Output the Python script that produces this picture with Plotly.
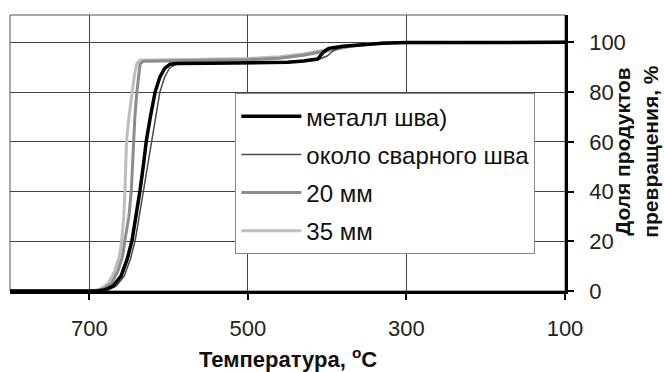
import plotly.graph_objects as go

# Temperature (°C) and transformation fraction (%) for each location
names = ["металл шва)", "около сварного шва", "20 мм", "35 мм"]

t_metal = [800, 690, 680, 670, 660, 652, 646, 641, 636, 632, 628, 623, 617, 611, 605, 598, 590, 550, 500, 450, 430, 412, 405, 398, 380, 360, 330, 300, 100]
y_metal = [0, 0, 0.5, 2, 6, 13, 20.5, 30, 40.5, 50, 60.5, 70, 80, 86, 89.5, 91.2, 91.5, 91.6, 91.7, 92.0, 92.5, 93.3, 96.0, 97.6, 98.4, 99.0, 99.6, 99.9, 100]

t_near = [800, 686, 676, 666, 656, 648, 642, 637, 632, 627, 621, 616, 611, 605, 599, 592, 585, 550, 500, 450, 425, 410, 400, 393, 385, 370, 340, 300, 100]
y_near = [0, 0, 0.5, 2, 6, 13, 20.5, 30, 40.5, 50, 60.5, 70, 80, 86, 89.5, 91.0, 91.4, 91.5, 91.6, 91.8, 92.5, 93.2, 94.5, 96.4, 97.8, 98.6, 99.4, 99.9, 100]

t_20 = [800, 692, 682, 672, 664, 658, 655, 650, 647, 645.5, 644.5, 642.5, 640, 638, 636, 632, 600, 550, 500, 460, 430, 410, 390, 370, 345, 320, 100]
y_20 = [0, 0, 0.8, 3, 8, 14, 20.5, 30, 40.5, 50, 60.5, 70, 80, 87, 91.2, 92.4, 92.6, 92.8, 93.0, 93.6, 94.8, 96.0, 97.3, 98.4, 99.3, 99.8, 100]

t_35 = [800, 696, 686, 676, 668, 662, 659, 656.5, 655, 654, 653, 650, 646, 643, 640, 636, 600, 550, 500, 460, 430, 410, 390, 370, 345, 320, 100]
y_35 = [0, 0, 0.8, 3, 8, 14, 20.5, 30, 40.5, 50, 60.5, 70, 80, 87, 91.5, 92.8, 93.0, 93.2, 93.5, 94.2, 95.3, 96.5, 97.7, 98.7, 99.4, 99.9, 100]

x_ticks = [700, 500, 300, 100]
y_ticks = [0, 20, 40, 60, 80, 100]

series = [
    (t_metal, y_metal, "#000000", 3.5),
    (t_near, y_near, "#4a4a4a", 1.5),
    (t_20, y_20, "#8c8c8c", 3),
    (t_35, y_35, "#bdbdbd", 3),
]

fig = go.Figure()
# draw lighter curves first so dark ones stay on top, keep legend order
order = [3, 2, 1, 0]
for i in order:
    t, y, c, w = series[i]
    fig.add_trace(go.Scatter(
        x=t, y=y, mode="lines", name=names[i],
        line=dict(color=c, width=w),
        legendgroup=str(i), legendrank=i + 1,
    ))

font_family = "Arial, Liberation Sans, sans-serif"

fig.update_layout(
    width=664, height=372,
    margin=dict(l=10, r=99, t=15, b=81),
    paper_bgcolor="white", plot_bgcolor="white",
    font=dict(family=font_family, color="#222222"),
    showlegend=True,
    legend=dict(
        x=0.406, y=0.717, xanchor="left", yanchor="top",
        bgcolor="white", bordercolor="#888888", borderwidth=1,
        font=dict(size=24, family=font_family, color="#111111"),
        tracegroupgap=4, itemwidth=60,
    ),
    xaxis=dict(
        range=[800, 100], tickvals=x_ticks, ticktext=[str(v) for v in x_ticks],
        showgrid=True, gridcolor="#444444", gridwidth=1,
        showline=True, linecolor="#000000", linewidth=2.5,
        ticks="outside", ticklen=6, tickcolor="#000000", tickwidth=2,
        tickfont=dict(size=22, color="#222222"),
        ticklabelstandoff=10,
        zeroline=False, fixedrange=True,
    ),
    yaxis=dict(
        range=[0, 111], tickvals=y_ticks, side="right",
        showgrid=True, gridcolor="#444444", gridwidth=1,
        showline=True, linecolor="#000000", linewidth=2.5,
        ticks="outside", ticklen=6, tickcolor="#000000", tickwidth=2,
        tickfont=dict(size=22, color="#222222"),
        ticklabelstandoff=11,
        zeroline=False, fixedrange=True,
    ),
    shapes=[dict(type="rect", xref="paper", yref="paper", x0=0, y0=0, x1=1, y1=1,
                 line=dict(color="#555555", width=1), layer="below")],
    annotations=[
        dict(text="Температура, <sup>o</sup>C", xref="paper", yref="paper",
             x=0.5, y=-0.243, xanchor="center", yanchor="middle", showarrow=False,
             font=dict(size=22, family=font_family, color="#111111", weight="bold")),
        dict(text="Доля продуктов<br>превращения, %", xref="paper", yref="paper",
             x=1.128, y=0.505, xanchor="center", yanchor="middle", showarrow=False,
             textangle=-90,
             font=dict(size=21, family=font_family, color="#111111", weight="bold")),
    ],
)

fig.write_html("out.html")
